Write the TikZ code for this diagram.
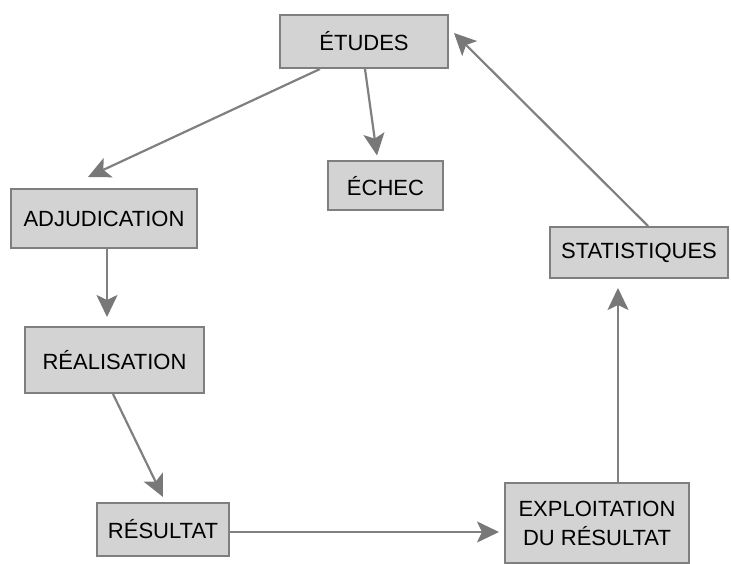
\documentclass[tikz,border=0pt]{standalone}
\usepackage{fontspec}
\setmainfont{Liberation Sans}
\usetikzlibrary{arrows.meta,calc}
\definecolor{boxfill}{HTML}{D3D3D3}
\definecolor{boxline}{HTML}{7F7F7F}
\definecolor{arrline}{HTML}{808080}
\definecolor{arrtip}{HTML}{787878}
\begin{document}
\begin{tikzpicture}[x=1pt,y=-1pt,
  box/.style={draw=boxline, fill=boxfill, line width=2pt, inner sep=0pt,
    font=\fontsize{22}{29}\selectfont, text=black, align=center},
  conn/.style={draw=arrline, line width=2.2pt,
    -{Stealth[length=22pt,width=21pt,inset=5pt,color=arrtip]}}]
\path[use as bounding box, fill=white] (0,0) rectangle (731,564);

\node[box, minimum width=168pt, minimum height=53pt] (etudes) at (364,41.5) {ÉTUDES};
\node[box, minimum width=115pt, minimum height=49pt] (echec) at (385.5,186) {ÉCHEC};
\node[box, minimum width=186pt, minimum height=59pt] (adj) at (104,218.5) {ADJUDICATION};
\node[box, minimum width=179pt, minimum height=66pt] (real) at (114.5,360) {RÉALISATION};
\node[box, minimum width=132pt, minimum height=53pt] (res) at (163,529.5) {RÉSULTAT};
\node[box, minimum width=184pt, minimum height=80pt] (expl) at (597,523) {EXPLOITATION\\DU RÉSULTAT};
\node[box, minimum width=178pt, minimum height=51pt] (stat) at (639,252.5) {STATISTIQUES};

\draw[conn] ($(etudes.south)+(-44,0)$) -- ($(adj.north)+(-16,-11)$);
\draw[conn] ($(etudes.south)+(1,0)$) -- ($(echec.north)+(-8.5,-5)$);
\draw[conn] ($(adj.south)+(3,0)$) -- ($(real.north)+(-7.5,-9)$);
\draw[conn] ($(real.south)+(-1.5,0)$) -- ($(res.north)+(0,-5)$);
\draw[conn] ($(res.east)+(0,2.5)$) -- ($(expl.west)+(-5,9)$);
\draw[conn] ($(expl.north)+(21,0)$) -- ($(stat.south)+(-21,9)$);
\draw[conn] ($(stat.north)+(9,0)$) -- ($(etudes.east)+(5,-8.5)$);
\end{tikzpicture}
\end{document}
